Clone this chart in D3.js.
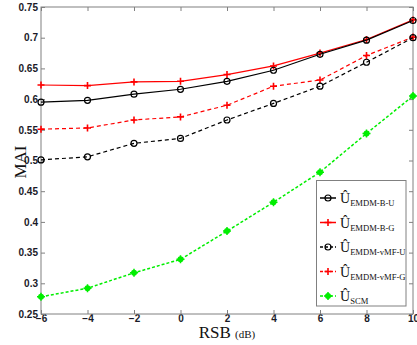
<!DOCTYPE html>
<html><head><meta charset="utf-8">
<script src="https://cdn.jsdelivr.net/npm/d3@7"></script>
<style>body{margin:0;background:#fff}svg{display:block}</style>
</head><body>
<svg id="c" width="417" height="345"></svg>
<script>
const rsb = [-6,-4,-2,0,2,4,6,8,10];
const emdmBU   = [0.595,0.598,0.608,0.616,0.629,0.647,0.673,0.696,0.728];
const emdmBG   = [0.623,0.622,0.628,0.629,0.640,0.654,0.675,0.697,0.729];
const emdmVmfU = [0.501,0.506,0.528,0.536,0.566,0.593,0.621,0.660,0.700];
const emdmVmfG = [0.551,0.553,0.566,0.571,0.590,0.621,0.631,0.671,0.701];
const scm      = [0.278,0.292,0.317,0.339,0.385,0.432,0.481,0.544,0.605];
const xTicks = [-6,-4,-2,0,2,4,6,8,10];
const yTicks = [0.25,0.3,0.35,0.4,0.45,0.5,0.55,0.6,0.65,0.7,0.75];
const seriesNames = ["EMDM-B-U","EMDM-B-G","EMDM-vMF-U","EMDM-vMF-G","SCM"];

const series = [
  {name:seriesNames[0], v:emdmBU, color:"#000", dash:null, marker:"circle"},
  {name:seriesNames[1], v:emdmBG, color:"#ff0000", dash:null, marker:"plus"},
  {name:seriesNames[2], v:emdmVmfU, color:"#000", dash:"4,3", marker:"circle"},
  {name:seriesNames[3], v:emdmVmfG, color:"#ff0000", dash:"4,3", marker:"plus"},
  {name:seriesNames[4], v:scm, color:"#00ee00", dash:"3,2", marker:"star"}
];

const L=41, R=413, T=7, B=314;
const x = d3.scaleLinear().domain([-6,10]).range([L,R]);
const y = d3.scaleLinear().domain([0.25,0.75]).range([B,T]);
const svg = d3.select("#c");
const axisColor = "#808080";
const tickFont = "bold 10px 'Liberation Sans', Arial, sans-serif";

const gx = svg.append("g").attr("transform",`translate(0,${B})`)
  .call(d3.axisBottom(x).tickValues(xTicks).tickSize(-4).tickPadding(3).tickFormat(d=>d<0?"\u2212"+(-d):d));
const gxt = svg.append("g").attr("transform",`translate(0,${T})`)
  .call(d3.axisTop(x).tickValues(xTicks).tickSize(-4).tickFormat(""));
const gy = svg.append("g").attr("transform",`translate(${L},0)`)
  .call(d3.axisLeft(y).tickValues(yTicks).tickSize(-4).tickPadding(3).tickFormat(d=>d3.format("")(+d.toFixed(2))));
const gyr = svg.append("g").attr("transform",`translate(${R},0)`)
  .call(d3.axisRight(y).tickValues(yTicks).tickSize(-4).tickFormat(""));
[gx,gxt,gy,gyr].forEach(g=>{
  g.select(".domain").remove();
  g.selectAll("line").attr("stroke",axisColor);
  g.selectAll("text").style("font",tickFont).attr("fill","#1a1a28");
});
gx.selectAll("text").attr("dy","0.5em");
svg.append("rect").attr("x",L).attr("y",T).attr("width",R-L).attr("height",B-T)
  .attr("fill","none").attr("stroke",axisColor).attr("stroke-width",1);

function drawMarker(g, m, cx, cy, color){
  if(m==="circle"){
    g.append("circle").attr("cx",cx).attr("cy",cy).attr("r",3).attr("fill","none").attr("stroke",color).attr("stroke-width",1.2);
  } else if(m==="plus"){
    g.append("path").attr("d",`M${cx-3.5},${cy}H${cx+3.5}M${cx},${cy-3.5}V${cy+3.5}`).attr("stroke",color).attr("stroke-width",1.6);
  } else {
    g.append("circle").attr("cx",cx).attr("cy",cy).attr("r",3).attr("fill",color);
    g.append("path").attr("d",`M${cx-4},${cy}H${cx+4}M${cx},${cy-4}V${cy+4}`).attr("stroke",color).attr("stroke-width",1.5);
  }
}

const line = d3.line().x((d,i)=>x(rsb[i])).y(d=>y(d));
series.slice().reverse().forEach(s=>{
  const g = svg.append("g");
  g.append("path").datum(s.v).attr("d",line).attr("fill","none")
    .attr("stroke",s.color).attr("stroke-width",s.marker==="star"?1.5:1.2)
    .attr("stroke-dasharray",s.dash);
  s.v.forEach((d,i)=>drawMarker(g,s.marker,x(rsb[i]),y(d),s.color));
});

const lg = svg.append("g");
lg.append("rect").attr("x",316.5).attr("y",180.5).attr("width",89.5).attr("height",125.5)
  .attr("fill","#fff").attr("stroke",axisColor).attr("stroke-width",1);
series.forEach((s,i)=>{
  const ly = 198 + i*24.5;
  lg.append("line").attr("x1",320).attr("x2",336).attr("y1",ly).attr("y2",ly)
    .attr("stroke",s.color).attr("stroke-width",1.5).attr("stroke-dasharray",s.dash?"3,2":null);
  drawMarker(lg,s.marker,328,ly,s.color);
  const t = lg.append("text").attr("x",340).attr("y",ly+5)
    .style("font-family","'Liberation Serif','Times New Roman',serif").attr("fill","#111");
  t.append("tspan").style("font-size","14px").text("\u00DB");
  t.append("tspan").style("font-size","8.6px").attr("dy",3).text(s.name);
});

svg.append("text").attr("transform","translate(26,162) rotate(-90)").attr("text-anchor","middle")
  .style("font-family","'Liberation Serif','Times New Roman',serif").style("font-size","17px").attr("fill","#111").text("MAI");
const xt = svg.append("text").attr("x",227).attr("y",338).attr("text-anchor","middle")
  .style("font-family","'Liberation Serif','Times New Roman',serif").attr("fill","#111");
xt.append("tspan").style("font-size","17px").text("RSB ");
xt.append("tspan").style("font-size","11px").text("(dB)");
</script>
</body></html>
